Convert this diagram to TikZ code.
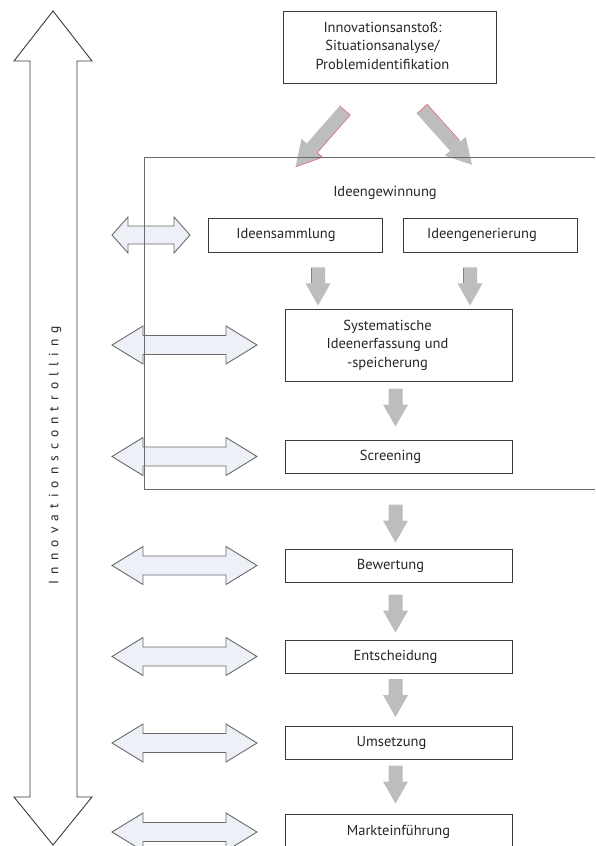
\documentclass[tikz,border=0pt]{standalone}
\usepackage{fontspec}
\setmainfont{PT Sans}
\usetikzlibrary{calc}

\definecolor{ink}{HTML}{262626}
\definecolor{boxline}{HTML}{3A3A3A}
\definecolor{framegray}{HTML}{6A6A6A}
\definecolor{flowgray}{HTML}{BDBDBD}
\definecolor{paleblue}{HTML}{EEF0F8}
\definecolor{edgered}{HTML}{E8455A}

\tikzset{
  stage/.style={draw=boxline, line width=0.9pt, fill=white, inner sep=0pt,
    minimum width=227pt, minimum height=33pt, text=ink, align=center,
    font=\fontsize{14.5}{18.5}\selectfont},
  subbox/.style={stage, minimum width=174pt, minimum height=34pt},
  plain/.style={text=ink, inner sep=0pt, font=\fontsize{14.5}{18.5}\selectfont},
  linkline/.style={draw=framegray, line width=0.9pt, line join=miter},
  frameline/.style={draw=framegray, line width=1pt},
  redge/.style={draw=edgered, line width=0.5pt, opacity=0.85}
}

% centred block of lines, set slightly left of the box centre
\newcommand\lines[2]{\begin{tabular}{@{}c@{}}#2\end{tabular}\hspace*{#1}}

% grey block arrow pointing down, #1 = tip point
\newcommand\flowdown[1]{%
  \begin{scope}[shift={#1}]
    \fill[flowgray] (0,0) -- (-12.5,-22) -- (-7,-22) -- (-7,-38) -- (7,-38)
      -- (7,-22) -- (12.5,-22) -- cycle;
  \end{scope}}

% same, with a thin red seam on the left side of the shaft
\newcommand\flowdownred[1]{%
  \begin{scope}[shift={#1}]
    \fill[flowgray] (0,0) -- (-12.5,-22) -- (-7,-22) -- (-7,-38) -- (7,-38)
      -- (7,-22) -- (12.5,-22) -- cycle;
    \draw[redge] (-7,-37) -- (-7,-22);
  \end{scope}}

% grey block arrow along a direction: #1 tail point, #2 angle, #3 red seam path
\newcommand\flowdiag[3]{%
  \begin{scope}[shift={#1}, rotate=#2]
    \fill[flowgray] (0,-7) -- (50,-7) -- (50,-14) -- (75,0) -- (50,14)
      -- (50,7) -- (0,7) -- cycle;
    \draw[redge] #3;
  \end{scope}}

% pale double arrow from the controlling bar to a stage
% #1 stage node, #2 length, #3 head length, #4 head half height, #5 shaft half height
\newcommand\ctrlarrow[5]{%
  \begin{scope}[shift={(ctrlL |- #1)}]
    \draw[linkline, fill=paleblue] (0,0) -- (#3,-#4) -- (#3,-#5) -- (#2-#3,-#5)
      -- (#2-#3,-#4) -- (#2,0) -- (#2-#3,#4) -- (#2-#3,#5) -- (#3,#5)
      -- (#3,#4) -- cycle;
  \end{scope}}

\begin{document}
\begin{tikzpicture}[x=1pt, y=-1pt]
  \useasboundingbox (0,0) rectangle (595,846);

  % controlling bar: tall double arrow on the left
  \draw[draw=boxline, line width=0.9pt, fill=white, line join=miter]
    (53,11) -- (92,61) -- (77,61) -- (77,797) -- (92,797) -- (53,845)
    -- (14,797) -- (30,797) -- (30,61) -- (14,61) -- cycle;
  \node[plain, rotate=90, font=\fontsize{13.5}{16}\selectfont] (ctrl) at (55,455)
    {\addfontfeature{LetterSpace=45}Innovationscontrolling};
  \coordinate (ctrlL) at (112,0);

  % trigger box
  \node[stage, minimum width=213pt, minimum height=72pt] (start) at (389.5,47)
    {\lines{14pt}{Innovationsansto\ss:\\Situationsanalyse/\\Problemidentifikation}};

  % idea generation
  \node[plain] (gew) at (385,193) {Ideengewinnung};
  \node[subbox] (sam) at (295,235) {Ideensammlung\hspace*{18pt}};
  \node[subbox] (gen) at (490,235) {Ideengenerierung\hspace*{16pt}};

  % process stages
  \node[stage, minimum height=72pt] (sys) at (398.5,345)
    {\lines{22pt}{Systematische\\Ideenerfassung und\\-speicherung}};
  \node[stage] (scr) at (398.5,456.5) {Screening\hspace*{16pt}};
  \node[stage] (bew) at (398.5,565.5) {Bewertung\hspace*{16pt}};
  \node[stage] (ent) at (398.5,656.5) {Entscheidung\hspace*{6pt}};
  \node[stage] (ums) at (398.5,743) {Umsetzung\hspace*{14pt}};
  \node[stage, minimum height=36pt] (mkt) at (398.5,832) {Markteinf\"uhrung};

  % arrows from the trigger box into the idea phase
  \flowdiag{($(start.south)+(-44.5,27)$)}{228.8}{(0,7) -- (0,-7) -- (50,-7) -- (50,-14) -- (75,0)}
  \flowdiag{($(start.south)+(32.5,25.5)$)}{-48.2}{(0,7) -- (0,-7) -- (48,-7)}

  % arrows down the process chain
  \flowdownred{($(sam.south)+(23,53)$)}
  \flowdownred{($(gen.south)+(-20,53)$)}
  \flowdown{($(scr.north)+(-3,-13)$)}
  \flowdown{($(bew.north)+(-3,-6)$)}
  \flowdown{($(ent.north)+(-3,-7)$)}
  \flowdown{($(ums.north)+(-3,-9)$)}
  \flowdown{($(mkt.north)+(-3,-10)$)}

  % links between controlling and the stages
  \ctrlarrow{sam}{78}{16}{18}{9}
  \ctrlarrow{sys}{145}{31}{19}{9.5}
  \ctrlarrow{scr}{145}{31}{19}{9.5}
  \ctrlarrow{bew}{145}{31}{19}{9.5}
  \ctrlarrow{ent}{145}{31}{19}{9.5}
  \ctrlarrow{ums}{145}{31}{19}{9.5}
  \ctrlarrow{mkt}{145}{31}{19}{9.5}

  % bracket framing the idea phase
  \draw[frameline] (595,157) -- (144,157) -- (144,489) -- (595,489);
\end{tikzpicture}
\end{document}
